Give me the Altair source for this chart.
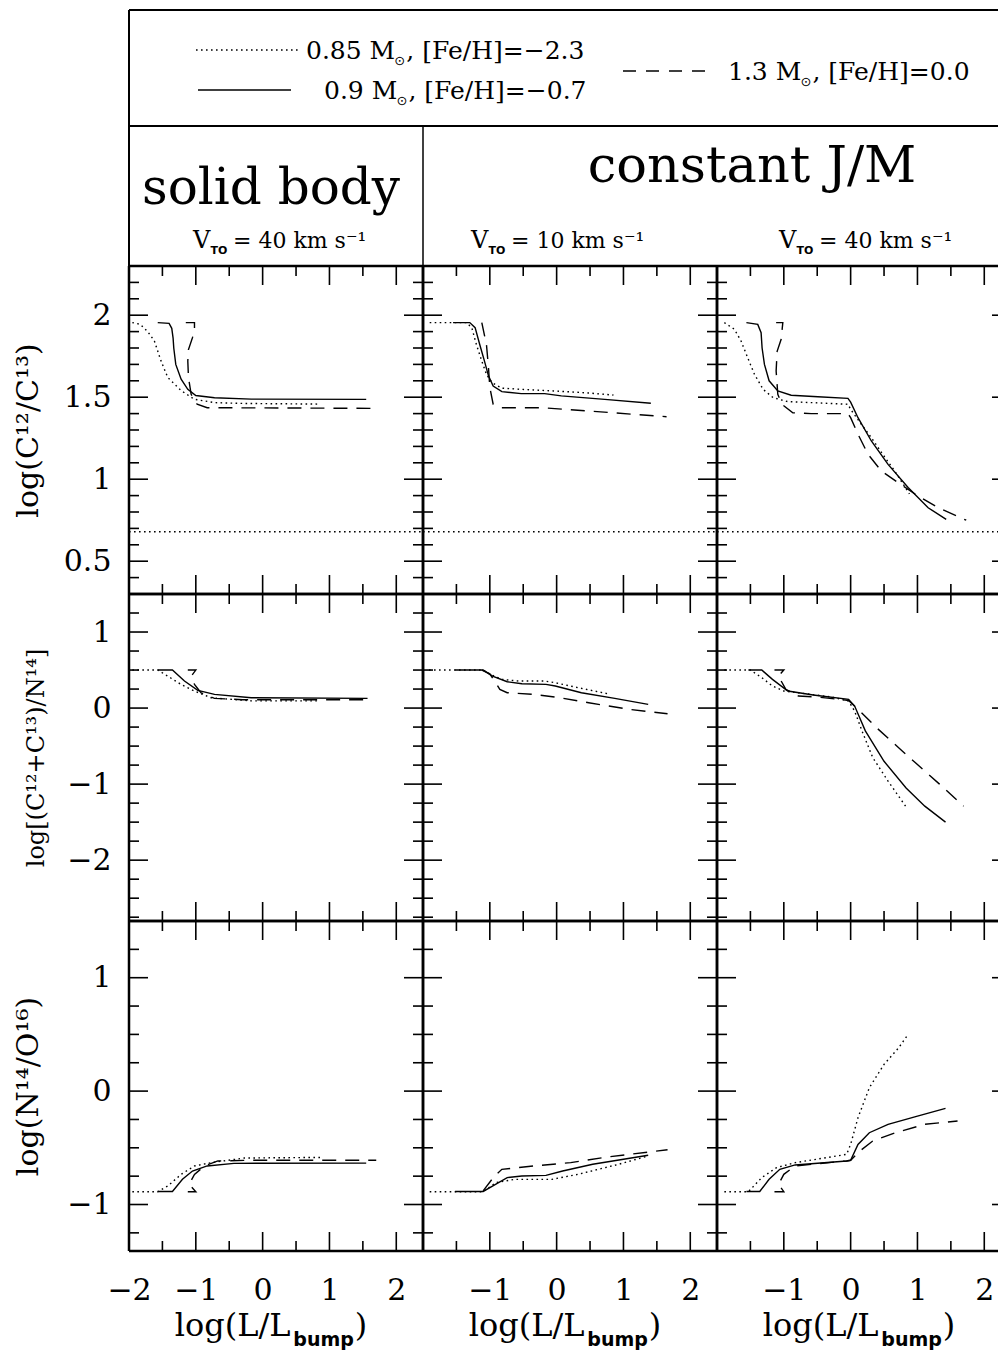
import altair as alt
import pandas as pd

SERIF = "DejaVu Serif"
SANS = "DejaVu Sans"

# ---------------- data: log(L/Lbump) vs abundance ratios ----------------
# Row 1: log(C12/C13)
cc_sb40_085_x = [-1.95, -1.83, -1.72, -1.62, -1.52, -1.42, -1.22, -1.02, -0.72, -0.30, 0.83]
cc_sb40_085_y = [1.955, 1.944, 1.90, 1.843, 1.72, 1.62, 1.54, 1.487, 1.467, 1.462, 1.458]
cc_sb40_090_x = [-1.57, -1.40, -1.36, -1.34, -1.33, -1.30, -1.22, -1.12, -1.00, -0.72, -0.17, 1.55]
cc_sb40_090_y = [1.955, 1.950, 1.92, 1.86, 1.80, 1.70, 1.61, 1.548, 1.51, 1.497, 1.488, 1.487]
cc_sb40_130_x = [-1.15, -1.02, -1.02, -1.05, -1.11, -1.12, -1.11, -1.07, -0.98, -0.83, 1.70]
cc_sb40_130_y = [1.955, 1.955, 1.92, 1.863, 1.79, 1.72, 1.62, 1.518, 1.457, 1.436, 1.432]

cc_jm10_085_x = [-1.90, -1.35, -1.27, -1.20, -1.12, -1.05, -0.97, -0.82, -0.53, -0.03, 0.47, 0.85]
cc_jm10_085_y = [1.955, 1.955, 1.924, 1.82, 1.72, 1.64, 1.59, 1.555, 1.548, 1.538, 1.526, 1.513]
cc_jm10_090_x = [-1.55, -1.30, -1.22, -1.15, -1.08, -1.02, -0.95, -0.82, -0.53, -0.18, 0.07, 0.72, 1.41]
cc_jm10_090_y = [1.955, 1.955, 1.924, 1.82, 1.72, 1.63, 1.568, 1.534, 1.522, 1.522, 1.508, 1.487, 1.463]
cc_jm10_130_x = [-1.12, -1.05, -1.02, -1.00, -0.95, -0.82, -0.23, 0.47, 1.645]
cc_jm10_130_y = [1.955, 1.82, 1.68, 1.56, 1.457, 1.436, 1.436, 1.416, 1.381]

cc_jm40_085_x = [-1.89, -1.74, -1.64, -1.54, -1.44, -1.31, -1.16, -0.94, -0.59, -0.04, 0.00, 0.16, 0.31, 0.48, 0.66, 0.88]
cc_jm40_085_y = [1.955, 1.914, 1.843, 1.74, 1.64, 1.548, 1.497, 1.473, 1.467, 1.457, 1.426, 1.335, 1.253, 1.152, 1.05, 0.91]
cc_jm40_090_x = [-1.56, -1.39, -1.34, -1.325, -1.29, -1.22, -1.09, -0.89, -0.49, -0.04, 0.00, 0.11, 0.31, 0.56, 0.86, 1.16, 1.43]
cc_jm40_090_y = [1.955, 1.944, 1.893, 1.80, 1.70, 1.60, 1.538, 1.512, 1.503, 1.493, 1.47, 1.375, 1.233, 1.09, 0.95, 0.826, 0.755]
cc_jm40_130_x = [-1.115, -1.015, -1.04, -1.10, -1.115, -1.09, -1.03, -0.865, -0.59, -0.04, 0.00, 0.11, 0.26, 0.46, 0.71, 1.01, 1.31, 1.73]
cc_jm40_130_y = [1.955, 1.955, 1.853, 1.78, 1.66, 1.518, 1.457, 1.405, 1.40, 1.40, 1.375, 1.274, 1.152, 1.05, 0.979, 0.897, 0.826, 0.75]

cn_equilibrium_c12c13 = [0.68]

# Row 2: log[(C12+C13)/N14]
cn_sb40_085_x = [-1.95, -1.57, -1.42, -1.22, -1.02, -0.77, -0.17, 0.83]
cn_sb40_085_y = [0.5, 0.5, 0.42, 0.31, 0.224, 0.135, 0.095, 0.095]
cn_sb40_090_x = [-1.57, -1.35, -1.17, -0.97, -0.72, -0.17, 1.57]
cn_sb40_090_y = [0.5, 0.5, 0.355, 0.233, 0.18, 0.136, 0.127]
cn_sb40_130_x = [-1.12, -1.00, -1.06, -1.02, -0.92, -0.72, -0.30, 1.60]
cn_sb40_130_y = [0.5, 0.5, 0.43, 0.31, 0.20, 0.127, 0.11, 0.11]

cn_jm10_085_x = [-1.91, -1.10, -0.99, -0.82, -0.57, -0.18, -0.02, 0.32, 0.76]
cn_jm10_085_y = [0.5, 0.5, 0.443, 0.377, 0.355, 0.355, 0.333, 0.268, 0.189]
cn_jm10_090_x = [-1.52, -1.10, -0.96, -0.74, -0.52, -0.16, -0.02, 0.37, 0.87, 1.37]
cn_jm10_090_y = [0.5, 0.5, 0.42, 0.346, 0.32, 0.311, 0.29, 0.202, 0.127, 0.048]
cn_jm10_130_x = [-1.12, -1.00, -0.93, -0.85, -0.74, -0.35, -0.02, 0.48, 1.09, 1.66]
cn_jm10_130_y = [0.5, 0.45, 0.355, 0.246, 0.202, 0.18, 0.145, 0.07, -0.017, -0.074]

cn_jm40_085_x = [-1.89, -1.50, -1.33, -1.17, -1.00, -0.78, -0.28, -0.03, 0.06, 0.17, 0.33, 0.56, 0.83]
cn_jm40_085_y = [0.5, 0.5, 0.40, 0.29, 0.224, 0.20, 0.145, 0.092, -0.04, -0.30, -0.65, -0.96, -1.30]
cn_jm40_090_x = [-1.53, -1.33, -1.17, -0.94, -0.56, -0.03, 0.06, 0.22, 0.50, 0.83, 1.11, 1.42]
cn_jm40_090_y = [0.5, 0.5, 0.377, 0.224, 0.171, 0.114, 0.026, -0.30, -0.70, -1.05, -1.29, -1.50]
cn_jm40_130_x = [-1.14, -1.00, -1.08, -0.97, -0.78, -0.50, -0.03, 0.14, 0.39, 0.78, 1.33, 1.69]
cn_jm40_130_y = [0.5, 0.5, 0.42, 0.246, 0.158, 0.145, 0.10, -0.04, -0.26, -0.57, -1.00, -1.29]

# Row 3: log(N14/O16)
no_sb40_085_x = [-1.95, -1.57, -1.42, -1.22, -1.02, -0.77, -0.27, 0.87]
no_sb40_085_y = [-0.887, -0.887, -0.837, -0.734, -0.66, -0.631, -0.59, -0.585]
no_sb40_090_x = [-1.57, -1.35, -1.20, -1.05, -0.83, -0.43, 1.55]
no_sb40_090_y = [-0.885, -0.885, -0.778, -0.705, -0.66, -0.637, -0.635]
no_sb40_130_x = [-1.12, -1.00, -1.10, -1.02, -0.87, -0.67, -0.17, 1.70]
no_sb40_130_y = [-0.887, -0.887, -0.822, -0.734, -0.66, -0.616, -0.61, -0.61]

no_jm10_085_x = [-1.90, -1.10, -0.91, -0.63, -0.07, 0.32, 0.93, 1.37]
no_jm10_085_y = [-0.887, -0.887, -0.807, -0.778, -0.778, -0.734, -0.645, -0.572]
no_jm10_090_x = [-1.52, -1.10, -0.96, -0.74, -0.52, -0.16, 0.09, 0.54, 1.37]
no_jm10_090_y = [-0.885, -0.885, -0.837, -0.763, -0.749, -0.743, -0.705, -0.645, -0.566]
no_jm10_130_x = [-1.10, -0.93, -0.82, -0.35, 0.21, 0.76, 1.66]
no_jm10_130_y = [-0.88, -0.749, -0.69, -0.66, -0.631, -0.581, -0.517]

no_jm40_085_x = [-1.89, -1.53, -1.33, -1.11, -0.83, -0.06, 0.00, 0.11, 0.28, 0.50, 0.72, 0.86]
no_jm40_085_y = [-0.887, -0.887, -0.763, -0.675, -0.631, -0.558, -0.47, -0.235, 0.03, 0.236, 0.383, 0.50]
no_jm40_090_x = [-1.56, -1.36, -1.22, -1.06, -0.83, -0.06, 0.00, 0.11, 0.28, 0.56, 1.00, 1.42]
no_jm40_090_y = [-0.885, -0.885, -0.778, -0.69, -0.651, -0.616, -0.61, -0.47, -0.367, -0.293, -0.22, -0.152]
no_jm40_130_x = [-1.14, -1.00, -1.08, -1.00, -0.83, -0.06, 0.00, 0.14, 0.33, 0.67, 1.11, 1.60]
no_jm40_130_y = [-0.887, -0.887, -0.822, -0.734, -0.66, -0.616, -0.61, -0.528, -0.44, -0.367, -0.293, -0.264]

# ---------------- ticks, labels, titles ----------------
x_major_ticks = [-1, 0, 1, 2]
x_minor_ticks = [-1.5, -0.5, 0.5, 1.5]
x_labels_first = [-2, -1, 0, 1, 2]
x_labels_other = [-1, 0, 1, 2]

y_major_ticks = [[0.5, 1, 1.5, 2], [-2, -1, 0, 1], [-1, 0, 1]]
y_minor_ticks = [
    [0.4, 0.6, 0.7, 0.8, 0.9, 1.1, 1.2, 1.3, 1.4, 1.6, 1.7, 1.8, 1.9, 2.1, 2.2],
    [-2.75, -2.5, -2.25, -1.75, -1.5, -1.25, -0.75, -0.5, -0.25, 0.25, 0.5, 0.75, 1.25],
    [-1.25, -0.75, -0.5, -0.25, 0.25, 0.5, 0.75, 1.25],
]
y_domains = [[0.3, 2.3], [-2.8, 1.5], [-1.41, 1.5]]
y_titles = ["log(C¹²/C¹³)", "log[(C¹²+C¹³)/N¹⁴]", "log(N¹⁴/O¹⁶)"]
y_title_sizes = [30, 24, 30]
y_title_x = [-101, -93, -101]

legend_masses = ["0.85", "0.9", "1.3"]
legend_feh = ["−2.3", "−0.7", "0.0"]
header_left = "solid body"
header_right = "constant J/M"
header_vto = ["40", "10", "40"]

# ---------------- layout ----------------
COL_W = [294, 294, 294]
ROW_H = [328, 327, 330]
UX = 294 / 4.4  # pixels per unit of log(L/Lbump)
DOT = [1.6, 3.4]
DASH = [14, 9]

one = pd.DataFrame({"k": [0]})

SERIF_W = {"0": .636, "1": .636, "2": .636, "3": .636, "4": .636, "5": .636, "6": .636,
           "7": .636, "8": .636, "9": .636, ".": .318, ",": .318, " ": .318, "M": .95,
           "[": .39, "]": .39, "(": .39, ")": .39, "F": .72, "e": .592, "/": .337,
           "H": .872, "=": .838, "−": .838, "l": .32, "o": .602, "g": .64, "L": .694, "V": .72}


def tw(s, size):
    return sum(SERIF_W.get(ch, 0.6) for ch in s) * size


def txt(s, x, y, size, font=SERIF, align="left", weight="normal"):
    return alt.Chart(one).mark_text(
        text=s, font=font, fontSize=size, fontWeight=weight, align=align,
        baseline="alphabetic", color="black"
    ).encode(x=alt.value(x), y=alt.value(y))


def hline(x1, x2, y, w=2.0, dash=None, color="black"):
    kw = {"strokeDash": dash} if dash else {}
    return alt.Chart(one).mark_rule(color=color, strokeWidth=w, **kw).encode(
        x=alt.value(x1), x2=alt.value(x2), y=alt.value(y))


def vline(x, y1, y2, w=2.0, color="black"):
    return alt.Chart(one).mark_rule(color=color, strokeWidth=w).encode(
        x=alt.value(x), y=alt.value(y1), y2=alt.value(y2))


def header_layers():
    L = []
    total = sum(COL_W)
    L.append(vline(-120, 0, 1, w=1, color="white"))  # left extent of the figure
    L.append(hline(0, total, -256))
    L.append(vline(0, -256, 0))
    L.append(hline(0, total, -140))
    L.append(vline(294, -140, 0, w=1.5))
    # legend
    samples = [(67, 169, -216, DOT), (69, 162, -176, None), (494, 584, -195, [13, 10])]
    starts = [(177, -207), (195, -167), (599, -186)]
    for (x1, x2, y, d), (tx, base), m, f in zip(samples, starts, legend_masses, legend_feh):
        L.append(hline(x1, x2, y, w=1.3, dash=d))
        a = m + " M"
        L.append(txt(a, tx, base, 25))
        xs = tx + tw(a, 25)
        L.append(txt("⊙", xs + 1, base + 6, 13, font=SANS))
        L.append(txt(", [Fe/H]=" + f, xs + 13, base, 25))
    # column headers
    L.append(txt(header_left, 142, -62, 50, align="center"))
    L.append(txt(header_right, 623, -84, 51, align="center"))
    for vx, v in zip([64, 342, 650], header_vto):
        L.append(txt("V", vx, -18, 24))
        L.append(txt("TO", vx + 17.5, -12, 11, font=SANS, weight="bold"))
        L.append(txt("= " + v + " km s⁻¹", vx + 40, -18, 22))
    return L


def xtitle_layers(H):
    w1 = tw("log(L/L", 32)
    wb = 3.186 * 19
    total = w1 + 2 + wb + tw(")", 32)
    start = 142 - total / 2
    return [
        txt("log(L/L", start, H + 85, 32),
        txt("bump", start + w1 + 1, H + 95, 19, font=SANS, weight="bold"),
        txt(")", start + w1 + 2 + wb, H + 85, 32),
    ]


def panel(r, c, series):
    W, H = COL_W[c], ROW_H[r]
    xsc = alt.Scale(domain=[-2, -2 + W / UX], nice=False, zero=False)
    ysc = alt.Scale(domain=y_domains[r], nice=False, zero=False)
    if r == 2:
        xax = alt.Axis(values=x_labels_first if c == 0 else x_labels_other, format="~g",
                       ticks=False, tickSize=0, domain=False, grid=False,
                       labelFont=SERIF, labelFontSize=30, labelPadding=24, labelColor="black",
                       labelFlush=False, labelOverlap=False, title=None)
    else:
        xax = None
    if c == 0:
        yax = alt.Axis(values=y_major_ticks[r], format="~g", ticks=False, tickSize=0,
                       domain=False, grid=False, labelFont=SERIF, labelFontSize=30,
                       labelPadding=18, labelColor="black", labelOverlap=False,
                       title=y_titles[r], titleFont=SERIF, titleFontSize=y_title_sizes[r],
                       titleFontWeight="normal", titleColor="black", titleX=y_title_x[r],
                       titleY=H / 2, titleAngle=270, titleAlign="center",
                       titleBaseline="middle")
    else:
        yax = None

    layers = []
    for xs, ys, dash in series:
        df = pd.DataFrame({"x": xs, "y": ys, "i": list(range(len(xs)))})
        kw = {"strokeDash": dash} if dash else {}
        layers.append(
            alt.Chart(df).mark_line(color="black", strokeWidth=1.4, **kw).encode(
                x=alt.X("x:Q", scale=xsc, axis=xax),
                y=alt.Y("y:Q", scale=ysc, axis=yax),
                order="i:Q",
            )
        )
    if r == 0:
        layers.append(
            alt.Chart(pd.DataFrame({"y": cn_equilibrium_c12c13})).mark_rule(
                color="black", strokeWidth=1.4, strokeDash=[1.6, 3.4]
            ).encode(y=alt.Y("y:Q", scale=ysc, axis=yax), x=alt.value(0), x2=alt.value(W))
        )

    def ytick(vals, x1, x2):
        return alt.Chart(pd.DataFrame({"y": vals})).mark_rule(color="black", strokeWidth=1.6).encode(
            y=alt.Y("y:Q", scale=ysc, axis=yax), x=alt.value(x1), x2=alt.value(x2))

    def xtick(vals, y1, y2):
        return alt.Chart(pd.DataFrame({"x": vals})).mark_rule(color="black", strokeWidth=1.6).encode(
            x=alt.X("x:Q", scale=xsc, axis=xax), y=alt.value(y1), y2=alt.value(y2))

    layers += [
        ytick(y_major_ticks[r], 0, 19), ytick(y_minor_ticks[r], 0, 10),
        ytick(y_major_ticks[r], W - 19, W), ytick(y_minor_ticks[r], W - 10, W),
        xtick(x_major_ticks, 0, 19), xtick(x_minor_ticks, 0, 10),
        xtick(x_major_ticks, H - 19, H), xtick(x_minor_ticks, H - 10, H),
    ]
    # frame
    layers += [vline(0, 0, H, w=2.5), hline(0, W, 0, w=2.5), hline(0, W, H, w=2.5),
               vline(W, 0, H, w=2.5)]
    if r == 0 and c == 0:
        layers += header_layers()
    if r == 2:
        layers += xtitle_layers(H)
    return alt.layer(*layers).properties(width=W, height=H)


grid = [
    [[(cc_sb40_085_x, cc_sb40_085_y, DOT), (cc_sb40_090_x, cc_sb40_090_y, None), (cc_sb40_130_x, cc_sb40_130_y, DASH)],
     [(cc_jm10_085_x, cc_jm10_085_y, DOT), (cc_jm10_090_x, cc_jm10_090_y, None), (cc_jm10_130_x, cc_jm10_130_y, DASH)],
     [(cc_jm40_085_x, cc_jm40_085_y, DOT), (cc_jm40_090_x, cc_jm40_090_y, None), (cc_jm40_130_x, cc_jm40_130_y, DASH)]],
    [[(cn_sb40_085_x, cn_sb40_085_y, DOT), (cn_sb40_090_x, cn_sb40_090_y, None), (cn_sb40_130_x, cn_sb40_130_y, DASH)],
     [(cn_jm10_085_x, cn_jm10_085_y, DOT), (cn_jm10_090_x, cn_jm10_090_y, None), (cn_jm10_130_x, cn_jm10_130_y, DASH)],
     [(cn_jm40_085_x, cn_jm40_085_y, DOT), (cn_jm40_090_x, cn_jm40_090_y, None), (cn_jm40_130_x, cn_jm40_130_y, DASH)]],
    [[(no_sb40_085_x, no_sb40_085_y, DOT), (no_sb40_090_x, no_sb40_090_y, None), (no_sb40_130_x, no_sb40_130_y, DASH)],
     [(no_jm10_085_x, no_jm10_085_y, DOT), (no_jm10_090_x, no_jm10_090_y, None), (no_jm10_130_x, no_jm10_130_y, DASH)],
     [(no_jm40_085_x, no_jm40_085_y, DOT), (no_jm40_090_x, no_jm40_090_y, None), (no_jm40_130_x, no_jm40_130_y, DASH)]],
]

panels = [panel(r, c, grid[r][c]) for r in range(3) for c in range(3)]

# negative right padding crops the figure at the page edge, as in the original
chart = alt.concat(*panels, columns=3, spacing=0, bounds="flush", align="each").properties(
    padding={"left": 0, "right": -15, "top": 0, "bottom": 1}
).configure_view(stroke=None).configure(background="white")

chart.save("out.html", embed_options={"renderer": "svg", "actions": False})
